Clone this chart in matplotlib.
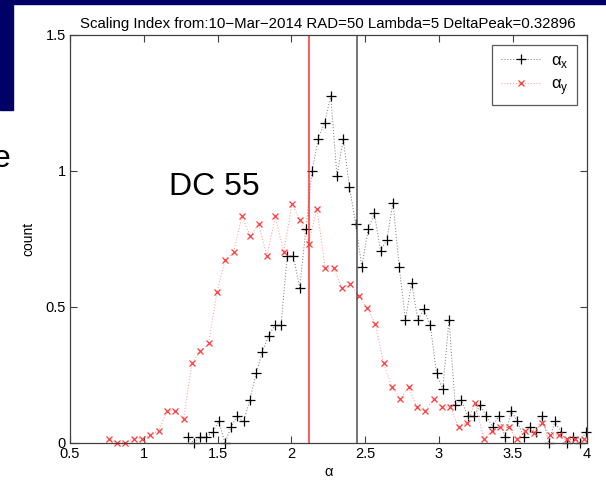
import numpy as np
import matplotlib
matplotlib.use("Agg")
import matplotlib.pyplot as plt
from matplotlib.ticker import FuncFormatter

plt.rcParams['font.family'] = ['Liberation Sans', 'DejaVu Sans']

# bin centres (evenly spaced histogram bins) and normalised counts
alpha_x_bins = np.linspace(1.297, 3.996, 65)
alpha_x_count = [0.020, 0.0, 0.020, 0.020, 0.039, 0.078, 0.0, 0.059, 0.098, 0.078,
                 0.157, 0.255, 0.333, 0.392, 0.431, 0.431, 0.686, 0.686, 0.569, 0.784,
                 1.000, 1.118, 1.176, 1.275, 0.980, 1.118, 0.941, 0.804, 0.647, 0.784,
                 0.843, 0.706, 0.745, 0.882, 0.647, 0.451, 0.588, 0.451, 0.490, 0.431,
                 0.255, 0.196, 0.451, 0.137, 0.157, 0.098, 0.098, 0.137, 0.098, 0.059,
                 0.098, 0.020, 0.118, 0.078, 0.020, 0.059, 0.039, 0.098, 0.0, 0.078,
                 0.039, 0.0, 0.020, 0.0, 0.039]

alpha_y_bins = np.linspace(0.762, 3.980, 58)
alpha_y_count = [0.015, 0.0, 0.0, 0.015, 0.015, 0.029, 0.044, 0.117, 0.117, 0.088,
                 0.292, 0.336, 0.365, 0.555, 0.672, 0.701, 0.832, 0.759, 0.803, 0.686,
                 0.832, 0.701, 0.876, 0.818, 0.730, 0.861, 0.642, 0.642, 0.569, 0.584,
                 0.540, 0.496, 0.438, 0.292, 0.204, 0.161, 0.204, 0.131, 0.117, 0.161,
                 0.131, 0.131, 0.058, 0.073, 0.146, 0.015, 0.044, 0.058, 0.058, 0.015,
                 0.044, 0.037, 0.073, 0.029, 0.029, 0.015, 0.015, 0.015]

peak_y = 2.118
delta_peak = 0.32896
peak_x = peak_y + delta_peak

title = "Scaling Index from:10\u2212Mar\u22122014 RAD=50 Lambda=5 DeltaPeak=0.32896"

fig = plt.figure(figsize=(6.06, 4.83), dpi=100)

# slide background pieces (dark blue corner)
fig.patches.append(plt.Rectangle((0, 0.992), 1, 0.008, transform=fig.transFigure,
                                 color='#000066', zorder=-10))
fig.patches.append(plt.Rectangle((0, 0.772), 0.021, 0.228, transform=fig.transFigure,
                                 color='#000066', zorder=-10))

ax = fig.add_axes([70 / 606, 40.3 / 483, 516.5 / 606, 408 / 483])

ax.plot(alpha_x_bins, alpha_x_count, ls=(0, (1, 2)), lw=0.7, color='0.45',
        marker='+', ms=7, mec='k', mew=0.9, clip_on=False, label='α$_\\mathregular{x}$')
ax.plot(alpha_y_bins, alpha_y_count, ls=(0, (1, 2)), lw=0.7, color='#ff9090',
        marker='x', ms=4.5, mec='#ff3a3a', mew=0.9, clip_on=False, label='α$_\\mathregular{y}$')

ax.axvline(peak_y, color='#ff3030', lw=1.1)
ax.axvline(peak_x, color='#505050', lw=1.1)

ax.set_xlim(0.5, 4)
ax.set_ylim(0, 1.5)
ax.set_xticks(np.arange(0.5, 4.01, 0.5))
ax.set_yticks([0, 0.5, 1, 1.5])
fmt = FuncFormatter(lambda v, p: ('%g' % v))
ax.xaxis.set_major_formatter(fmt)
ax.yaxis.set_major_formatter(fmt)
ax.tick_params(direction='in', length=5, width=0.8, color='#404040',
               top=True, right=True, labelsize=10.5, pad=3)
for s in ax.spines.values():
    s.set_color('#404040')
    s.set_linewidth(0.9)

ax.set_title(title, fontsize=10.8, pad=5)
ax.set_ylabel('count', fontsize=10, labelpad=7)
ax.set_xlabel('α', fontsize=10.5, labelpad=3)

leg = ax.legend(loc='upper right', fontsize=12, frameon=True, fancybox=False,
                edgecolor='#303030', borderaxespad=0.6, handlelength=2.4,
                handletextpad=0.6, labelspacing=0.4, borderpad=0.5)
leg.get_frame().set_linewidth(0.9)

fig.text(169 / 606, 1 - 195 / 483, 'DC 55', fontsize=23, ha='left', va='baseline')
fig.text(10 / 606, 1 - 167 / 483, 'e', fontsize=23, ha='right', va='baseline')

fig.savefig('out.png', dpi=100)
